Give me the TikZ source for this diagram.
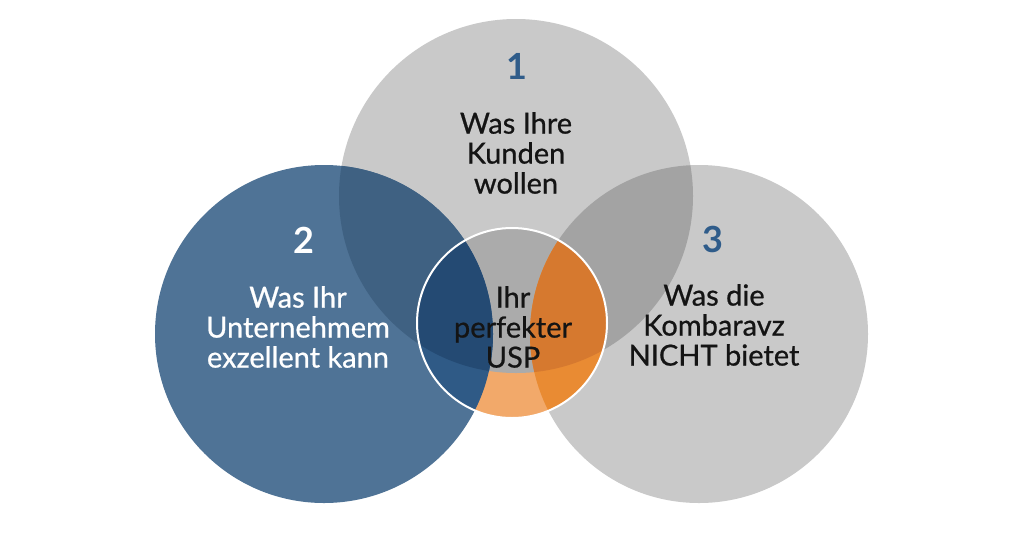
\documentclass[tikz,border=0pt]{standalone}
\usepackage{fontspec}
\setmainfont{Lato}
\newfontfamily\kraeftig{Lato}[FakeBold=0.7]

\definecolor{grauhell}{HTML}{C9C9C9}
\definecolor{graudunkel}{HTML}{A3A3A3}
\definecolor{grauusp}{HTML}{ABABAB}
\definecolor{blau}{HTML}{4F7396}
\definecolor{blaudunkel}{HTML}{3F6182}
\definecolor{blauusp}{HTML}{2F5A86}
\definecolor{blauuspdunkel}{HTML}{244A73}
\definecolor{orangehell}{HTML}{F2A96A}
\definecolor{orangemittel}{HTML}{E98B33}
\definecolor{orangedunkel}{HTML}{D6792F}
\definecolor{zahlblau}{HTML}{2F5C8A}
\definecolor{schrift}{HTML}{141414}

\def\radkunden{177}
\def\radseite{169}
\def\radusp{95}

\begin{document}
\begin{tikzpicture}[
  x=1pt, y=-1pt,
  zahl/.style={font=\bfseries\fontsize{36}{36}\selectfont, inner sep=0pt},
  beschriftung/.style={align=center, font=\kraeftig\fontsize{29}{30}\selectfont, text=schrift, inner sep=0pt}
]
  \useasboundingbox[fill=white] (0,0) rectangle (1024,558);

  \coordinate (kunden) at (516,196);
  \coordinate (firma) at (324,334);
  \coordinate (konkurrenz) at (699,334);
  \coordinate (usp) at (512,323);

  % grosse Kreise
  \fill[grauhell] (kunden) circle (\radkunden);
  \fill[grauhell] (konkurrenz) circle (\radseite);
  \begin{scope}
    \clip (kunden) circle (\radkunden);
    \fill[graudunkel] (konkurrenz) circle (\radseite);
  \end{scope}
  \fill[blau] (firma) circle (\radseite);
  \begin{scope}
    \clip (kunden) circle (\radkunden);
    \fill[blaudunkel] (firma) circle (\radseite);
  \end{scope}

  % USP in der Mitte
  \begin{scope}
    \clip (usp) circle (\radusp);
    \fill[orangehell] (usp) circle (\radusp);
    \begin{scope}
      \clip (kunden) circle (\radkunden);
      \fill[grauusp] (usp) circle (\radusp);
    \end{scope}
    \fill[orangemittel] (konkurrenz) circle (\radseite);
    \begin{scope}
      \clip (kunden) circle (\radkunden);
      \fill[orangedunkel] (konkurrenz) circle (\radseite);
    \end{scope}
    \fill[blauusp] (firma) circle (\radseite);
    \begin{scope}
      \clip (kunden) circle (\radkunden);
      \fill[blauuspdunkel] (firma) circle (\radseite);
    \end{scope}
  \end{scope}
  \draw[white, line width=2pt] (usp) circle (\radusp);

  % Nummern
  \node[zahl, text=zahlblau] (nr1) at (517,66) {1};
  \node[zahl, text=white] (nr2) at (304,240) {2};
  \node[zahl, text=zahlblau] (nr3) at (713,239) {3};

  % Texte
  \node[beschriftung] (wollen) at (516,153) {Was Ihre\\Kunden\\wollen};
  \node[beschriftung, text=white] (koennen) at (298,327) {Was Ihr\\Unternehmem\\exzellent kann};
  \node[beschriftung] (bieten) at (714,325) {Was die\\Kombaravz\\NICHT bietet};
  \node[beschriftung] (perfekt) at (513,327) {Ihr\\perfekter\\USP};
\end{tikzpicture}
\end{document}
